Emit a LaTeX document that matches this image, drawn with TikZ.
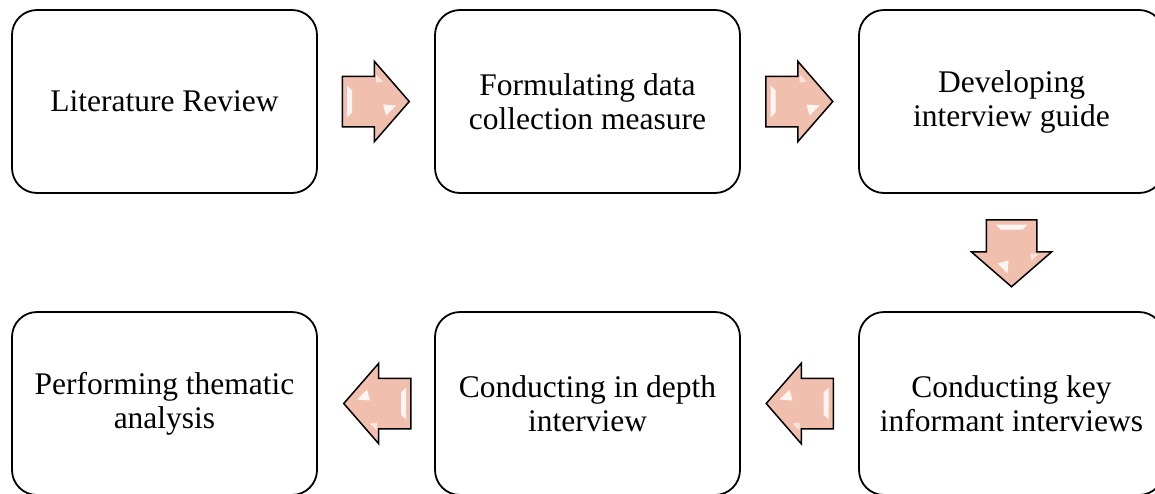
\documentclass[tikz,border=0pt]{standalone}
\usepackage{fontspec}
\setmainfont{Liberation Serif}
\usetikzlibrary{shapes.arrows,calc}
\definecolor{arrowfill}{RGB}{241,191,173}
\newcommand\glint[2]{%
  \begin{scope}[shift={(#1)},rotate=#2]
    \fill[white,opacity=0.85] (-28pt,16pt) -- (-23pt,11pt) -- (-23pt,-11pt) -- (-28pt,-16pt) -- cycle;
    \fill[white,opacity=0.85] (8pt,-3pt) -- (21pt,-4pt) -- (11pt,-14pt) -- cycle;
    \fill[white,opacity=0.6] (1pt,27pt) -- (8pt,20pt) -- (1pt,19pt) -- cycle;
  \end{scope}}
\begin{document}
\begin{tikzpicture}[x=1pt,y=-1pt,
  stage/.style={draw=black, line width=1.8pt, rounded corners=25pt,
    minimum width=305pt, minimum height=183pt, align=center, inner sep=0pt,
    font=\fontsize{31.5}{34}\selectfont},
  flow/.style={single arrow, draw=black, line width=1.5pt, fill=arrowfill,
    minimum height=67pt, inner xsep=0pt, inner ysep=24.5pt,
    single arrow head extend=15pt, single arrow tip angle=98, anchor=tail}
]
\useasboundingbox (0,0) rectangle (1155,493);
\node[stage] (b1) at (164.5,101.5) {Literature Review};
\node[stage] (b2) at (587.5,101.5) {Formulating data\\collection measure};
\node[stage] (b3) at (1011.5,101.5) {Developing\\interview guide};
\node[stage] (b4) at (164.5,403.5) {Performing thematic\\analysis};
\node[stage] (b5) at (587.5,403.5) {Conducting in depth\\interview};
\node[stage] (b6) at (1011.5,403.5) {Conducting key\\informant interviews};

\coordinate (m1) at ($(b1.east)!0.5!(b2.west)+(-1,0)$);
\coordinate (m2) at ($(b2.east)!0.5!(b3.west)+(-1,0)$);
\coordinate (m3) at ($(b3.south)!0.5!(b6.north)$);
\coordinate (m4) at ($(b6.west)!0.5!(b5.east)+(1,0)$);
\coordinate (m5) at ($(b5.west)!0.5!(b4.east)+(2,0)$);

\node[flow] (a1) at ($(m1)!33.5pt!(b1.east)$) {};
\node[flow] (a2) at ($(m2)!33.5pt!(b2.east)$) {};
\node[flow, rotate=-90] (a3) at ($(m3)!33.5pt!(b3.south)$) {};
\node[flow, rotate=180] (a4) at ($(m4)!33.5pt!(b6.west)$) {};
\node[flow, rotate=180] (a5) at ($(m5)!33.5pt!(b5.west)$) {};
\glint{m1}{0}
\glint{m2}{0}
\glint{m3}{-90}
\glint{m4}{180}
\glint{m5}{180}
\end{tikzpicture}
\end{document}
